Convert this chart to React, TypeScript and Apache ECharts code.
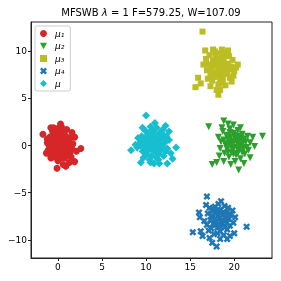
import React, { useEffect, useRef } from "react";
import * as echarts from "echarts";

const mu1: number[][] = [
  [-1.7, 1.2], [-1.2, 0.3], [-1.1, -0.5], [-0.9, 0.9], [-0.8, -0.1], [-0.7, 0.5], [-0.6, 1.5], [-0.5, -0.8],
  [-0.4, 0.2], [-0.3, 1.0], [-0.3, -0.4], [-0.2, 0.6], [-0.1, -1.1], [0.0, 0.0], [0.0, 1.8], [0.1, 0.4],
  [0.1, -0.6], [0.2, 1.2], [0.3, -0.2], [0.3, 0.8], [0.4, -1.3], [0.5, 0.1], [0.5, 1.6], [0.6, -0.7],
  [0.7, 0.5], [0.8, -0.1], [0.9, 1.0], [1.0, -0.9], [1.1, 0.3], [1.2, -0.4], [1.4, 0.8], [1.5, -1.2],
  [1.7, 0.2], [1.9, 0.9], [2.6, -0.3], [1.3, -1.8], [1.9, -1.7], [0.6, -2.0], [-0.1, -2.4], [0.9, -2.2],
  [-1.0, 0.0], [-0.5, 1.9], [0.4, 2.0], [1.6, 1.4], [2.1, -0.6], [-1.3, -0.8], [0.0, -1.6], [1.0, 1.7],
  [-0.8, -1.3], [0.2, -0.9], [0.3, 2.3], [-0.8, 1.9],
  [-0.6, 0.0], [-0.2, -0.2], [0.2, 0.1], [0.6, 0.3], [-0.4, 0.6], [0.0, 0.9], [0.4, 1.4], [-0.1, 1.4],
  [0.8, 0.8], [1.2, 0.0], [0.5, -0.4], [0.0, -0.4], [-0.5, -1.2], [0.8, -1.3], [1.4, -0.7], [-1.2, 0.7],
  [-0.9, -0.7], [1.6, -0.3], [-0.2, 0.3], [0.3, -0.9],
];
const mu2: number[][] = [
  [17.1, 2.0], [23.2, 1.0], [17.5, -2.0], [18.0, -1.8], [18.8, -1.7], [20.5, -2.6], [21.8, -1.3], [18.8, 2.6],
  [19.9, 2.2], [20.7, 1.9], [18.2, 0.9], [18.4, -0.3], [18.5, 0.4], [18.7, 1.5], [18.9, -0.8], [19.0, 0.2],
  [19.1, 1.1], [19.2, -0.4], [19.3, 0.7], [19.4, -1.2], [19.5, 1.8], [19.6, 0.0], [19.7, -0.7], [19.8, 0.5],
  [19.9, 1.3], [20.0, -0.2], [20.1, 0.9], [20.2, -1.0], [20.3, 0.3], [20.4, 1.6], [20.5, -0.5], [20.6, 0.6],
  [20.7, -1.4], [20.8, 0.1], [20.9, 1.2], [21.0, -0.3], [21.1, 0.7], [21.2, -0.9], [21.3, 0.4], [21.5, 1.0],
  [21.6, -0.5], [21.8, 0.3], [22.1, 0.9], [22.3, -0.1], [19.3, 2.3], [18.3, -1.1], [20.1, -1.7], [21.1, -1.9],
  [19.6, -2.0], [18.6, 1.9],
  [19.4, 0.3], [19.8, -0.3], [20.2, 0.6], [20.6, 0.0], [19.6, 0.9], [20.0, 1.1], [20.4, -0.8], [19.9, -0.9],
  [20.8, 0.8], [19.1, -0.1], [21.0, 0.3], [20.3, -0.2], [19.7, 0.2], [20.5, 1.0], [18.8, 0.6], [21.4, -0.2],
  [20.0, 0.4], [19.3, -0.7], [20.9, -0.7], [19.5, 1.4],
];
const mu3: number[][] = [
  [16.4, 12.1], [15.6, 6.2], [15.9, 7.2], [16.2, 6.6], [18.2, 5.4], [18.4, 5.9], [17.6, 10.2], [20.2, 8.3],
  [16.8, 9.2], [16.9, 8.0], [17.0, 7.1], [17.1, 8.6], [17.2, 9.6], [17.3, 7.6], [17.4, 8.2], [17.5, 6.9],
  [17.6, 9.0], [17.7, 7.8], [17.8, 10.0], [17.9, 8.5], [18.0, 7.3], [18.1, 9.4], [18.2, 6.5], [18.3, 8.1],
  [18.4, 9.8], [18.5, 7.6], [18.6, 8.9], [18.7, 7.0], [18.8, 9.3], [18.9, 8.2], [19.0, 6.4], [19.1, 9.9],
  [19.2, 7.7], [19.3, 8.7], [19.4, 9.5], [19.5, 7.2], [19.6, 8.4], [19.7, 6.8], [19.8, 9.1], [20.0, 7.9],
  [16.7, 10.1], [17.3, 6.3], [18.6, 10.2], [19.3, 10.1], [18.0, 5.9], [20.4, 8.6], [16.5, 8.6], [19.9, 7.4],
  [17.8, 8.8], [18.2, 8.4], [18.6, 8.0], [18.9, 7.6], [18.4, 7.1], [17.9, 7.5], [18.1, 9.0], [18.7, 9.6],
  [19.1, 8.5], [17.5, 8.5], [18.3, 7.8], [18.8, 8.6], [17.6, 7.4], [19.4, 8.1], [17.9, 9.6], [18.5, 6.6],
];
const mu4: number[][] = [
  [16.9, -5.4], [21.4, -8.6], [15.3, -9.2], [17.5, -10.3], [18.0, -10.7], [16.0, -7.1], [16.1, -7.6], [16.2, -9.1],
  [18.4, -9.9], [19.2, -9.9], [20.0, -9.3], [16.8, -6.3], [16.9, -8.4], [17.0, -7.2], [17.1, -9.0], [17.2, -6.6],
  [17.3, -7.9], [17.4, -8.8], [17.5, -6.9], [17.6, -7.5], [17.7, -9.4], [17.8, -6.5], [17.9, -8.1], [18.0, -7.0],
  [18.1, -8.7], [18.2, -6.2], [18.3, -7.7], [18.4, -9.1], [18.5, -6.8], [18.6, -8.3], [18.7, -7.4], [18.8, -9.5],
  [18.9, -6.4], [19.0, -8.0], [19.1, -7.1], [19.2, -8.9], [19.3, -6.6], [19.4, -7.8], [19.5, -8.5], [19.6, -7.3],
  [19.8, -6.9], [19.9, -8.2], [20.1, -7.6], [16.6, -8.0], [16.4, -9.6], [19.5, -9.6], [17.2, -9.8], [18.5, -5.9],
  [17.8, -7.8], [18.2, -7.4], [18.6, -7.9], [18.0, -8.4], [18.4, -8.6], [17.6, -8.3], [18.8, -7.1], [17.9, -7.2],
  [18.3, -6.9], [19.0, -7.6], [18.9, -8.7], [17.4, -7.5], [18.1, -9.3], [19.2, -8.2], [17.7, -6.8], [18.5, -8.0],
];
const muMean: number[][] = [
  [10.0, 3.2], [8.3, -0.5], [13.4, -0.2], [9.4, -1.8], [10.5, -1.8], [11.4, -1.5], [12.4, -1.9], [13.0, -1.4],
  [9.3, 0.3], [9.5, 1.0], [9.6, -0.6], [9.8, 0.5], [9.9, 1.6], [10.0, -1.0], [10.1, 0.0], [10.2, 1.2],
  [10.3, -0.4], [10.4, 0.7], [10.5, 2.0], [10.6, -1.1], [10.7, 0.2], [10.8, 1.5], [10.9, -0.6], [11.0, 0.9],
  [11.1, -0.1], [11.2, 1.9], [11.3, 0.4], [11.4, -0.9], [11.5, 1.3], [11.6, 0.0], [11.7, -0.5], [11.8, 0.8],
  [11.9, 1.7], [12.0, -1.1], [12.1, 0.3], [12.3, 1.0], [12.4, -0.3], [12.6, 0.6], [12.8, -0.8], [9.0, -0.2],
  [9.1, 0.8], [8.8, 0.1], [10.4, -1.5], [11.0, 2.4], [12.2, 2.1], [9.7, -1.3], [11.5, -1.9], [10.9, -1.9],
  [12.6, 1.5], [9.6, 1.9],
  [10.4, 0.2], [10.8, -0.2], [11.2, 0.6], [10.6, 0.9], [11.0, 0.3], [11.4, 0.1], [10.2, -0.6], [10.9, 1.1],
  [11.6, 0.9], [11.8, -0.1], [10.0, 0.6], [9.8, -0.2], [11.3, -0.5], [12.0, 0.6], [10.6, 1.6], [11.9, 1.2],
  [10.1, 0.9], [12.2, -0.6], [9.4, 0.0], [11.1, -1.2],
];

const seriesNames = ["μ₁", "μ₂", "μ₃", "μ₄", "μ"];
const seriesColors = ["#d62728", "#2ca02c", "#bcbd22", "#1f77b4", "#17becf"];
const xTicks = [0, 5, 10, 15, 20];
const yTicks = [-10, -5, 0, 5, 10];

const TRI_DOWN = "path://M0,0 L10,0 L5,9 Z";
const XMARK = "path://M2.5,0 L5,2.5 L7.5,0 L10,2.5 L7.5,5 L10,7.5 L7.5,10 L5,7.5 L2.5,10 L0,7.5 L2.5,5 L0,2.5 Z";
const symbols = ["circle", TRI_DOWN, "rect", XMARK, "diamond"];
const sizes = [7, 7, 6, 7, 8];

export default function App() {
  const ref = useRef<HTMLDivElement>(null);
  useEffect(() => {
    if (!ref.current) return;
    const chart = echarts.init(ref.current, null, { renderer: "svg" });
    const datasets = [mu1, mu2, mu3, mu4, muMean];
    const fmt = (v: number) => String(v).replace("-", "\u2212");
    chart.setOption({
      animation: false,
      textStyle: { fontFamily: "DejaVu Sans" },
      title: {
        text: "MFSWB {i|λ} = 1 F=579.25, W=107.09",
        left: 151,
        textAlign: "center",
        top: 7,
        padding: 0,
        textStyle: {
          fontSize: 10,
          fontWeight: "normal",
          color: "#000",
          fontFamily: "DejaVu Sans",
          rich: { i: { fontSize: 10, fontStyle: "italic", color: "#000", fontFamily: "DejaVu Sans" } },
        },
      },
      grid: {
        left: 31,
        top: 22,
        width: 241,
        height: 236,
        show: true,
        borderColor: "#222",
        borderWidth: 1,
        backgroundColor: "#fff",
      },
      legend: {
        orient: "vertical",
        left: 35,
        top: 26,
        padding: [3, 6, 3, 5],
        itemGap: 3.5,
        itemWidth: 7,
        itemHeight: 7,
        borderColor: "#ccc",
        borderWidth: 1,
        borderRadius: 2,
        backgroundColor: "#fff",
        textStyle: { fontSize: 9, fontStyle: "italic", color: "#000", fontFamily: "DejaVu Sans", padding: [0, 0, 0, 3] },
        data: seriesNames.map((n, i) => ({ name: n, icon: symbols[i] })),
      },
      xAxis: {
        type: "value",
        min: -3.05,
        max: 24.28,
        splitLine: { show: false },
        axisLine: { show: true, onZero: false, lineStyle: { color: "#222" } },
        axisTick: { show: true, length: 3, lineStyle: { color: "#222" }, customValues: xTicks },
        axisLabel: { fontSize: 9, color: "#000", margin: 4, customValues: xTicks, formatter: fmt },
      },
      yAxis: {
        type: "value",
        min: -11.93,
        max: 13.12,
        splitLine: { show: false },
        axisLine: { show: true, onZero: false, lineStyle: { color: "#222" } },
        axisTick: { show: true, length: 3, lineStyle: { color: "#222" }, customValues: yTicks },
        axisLabel: { fontSize: 9, color: "#000", margin: 4, customValues: yTicks, formatter: fmt },
      },
      series: datasets.map((d, i) => ({
        name: seriesNames[i],
        type: "scatter",
        data: d,
        symbol: symbols[i],
        symbolSize: sizes[i],
        itemStyle: { color: seriesColors[i], opacity: 1 },
        z: 2 + i,
      })),
    });
    return () => chart.dispose();
  }, []);
  return <div ref={ref} style={{ position: "fixed", left: 0, top: 0, width: 281, height: 281 }} />;
}
